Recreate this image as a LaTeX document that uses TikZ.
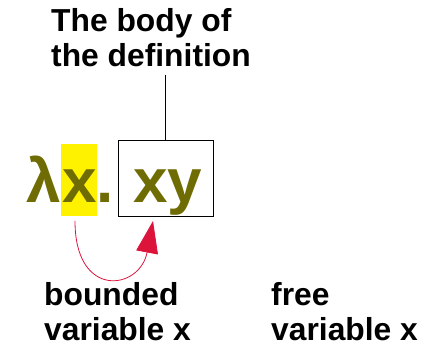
\documentclass[tikz,border=0pt]{standalone}
\usepackage{fontspec}
\setmainfont{Liberation Sans}
\usetikzlibrary{arrows.meta}
\definecolor{olivetxt}{RGB}{112,108,4}
\definecolor{arrowred}{RGB}{220,20,60}
\tikzset{
  lbl/.style={font=\bfseries\fontsize{31.8}{35}\selectfont, anchor=base west, inner sep=0pt, text=black},
  formula/.style={font=\bfseries\fontsize{62}{70}\selectfont, anchor=base west, inner sep=0pt, text=olivetxt},
}
\begin{document}
\begin{tikzpicture}[x=1pt,y=-1pt]
\useasboundingbox (0,0) rectangle (440,344);
% title
\node[lbl] (title1) at (51,32) {The body of};
\node[lbl] (title2) at (51,67) {the definition};
% highlight and box
\node[fill=yellow, minimum width=36pt, minimum height=72pt, inner sep=0pt] (hl) at (79,180) {};
\node[draw=black, line width=0.9pt, minimum width=95pt, minimum height=76pt, inner sep=0pt] (box) at (165.5,178) {};
% formula
\node[formula] (lam) at (26,203) {λ};
\node[formula] (xv) at (62,203) {x};
\node[formula] (dot) at (96,203) {.};
\node[formula] (xy) at (133,203) {xy};
% connector title -> box
\coordinate (tl) at ([yshift=-7pt]title2.south -| box.north);
\draw[line width=0.8pt] (tl) -- (box.north);
% arrow
\coordinate (as) at (75,221);
\coordinate (ae) at (153,221);
\draw[arrowred, line width=0.8pt, -{Triangle[length=32pt,width=22pt]}] (as) .. controls (75,300) and (140,290) .. (ae);
% bottom labels
\node[lbl] (b1) at (44,306) {bounded};
\node[lbl] (b2) at (44,341) {variable x};
\node[lbl] (f1) at (271,306) {free};
\node[lbl] (f2) at (271,341) {variable x};
\end{tikzpicture}
\end{document}
